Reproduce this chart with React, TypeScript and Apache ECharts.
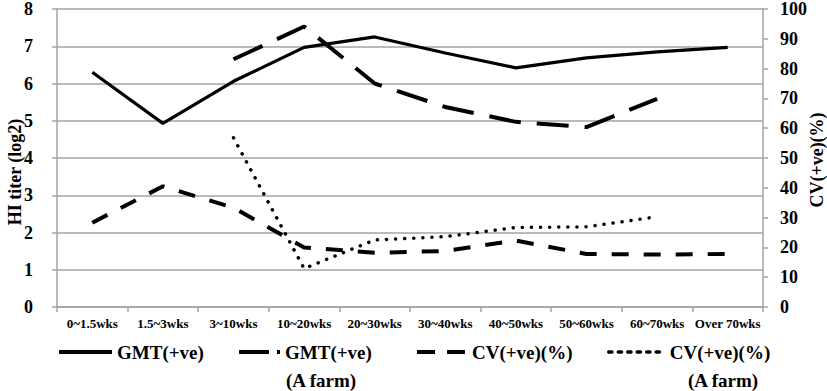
import React, { useEffect, useRef } from "react";
import * as echarts from "echarts";

const categories = [
  "0~1.5wks",
  "1.5~3wks",
  "3~10wks",
  "10~20wks",
  "20~30wks",
  "30~40wks",
  "40~50wks",
  "50~60wks",
  "60~70wks",
  "Over 70wks",
];
const gmt = [6.3, 4.93, 6.06, 6.97, 7.25, 6.82, 6.42, 6.69, 6.85, 6.97];
const gmtAFarm = [null, null, 6.65, 7.53, 6.0, 5.37, 4.97, 4.83, 5.59, null];
const cv = [28.3, 40.5, 33.3, 20.0, 18.2, 18.8, 22.3, 17.8, 17.6, 17.8];
const cvAFarm = [null, null, 56.8, 12.9, 22.5, 23.6, 26.7, 26.9, 30.3, null];

const leftTitle = "HI titer (log2)";
const rightTitle = "CV(+ve)(%)";
const seriesNames = ["GMT(+ve)", "GMT(+ve)(A farm)", "CV(+ve)(%)", "CV(+ve)(%)(A farm)"];
const legendLabels = ["GMT(+ve)", "GMT(+ve)", "CV(+ve)(%)", "CV(+ve)(%)"];
const subLabel = "(A farm)";

const FONT = "'Liberation Serif', 'Times New Roman', serif";
const GRID = "#a3a3a3";

export default function App() {
  const ref = useRef<HTMLDivElement>(null);
  useEffect(() => {
    if (!ref.current) return;
    const chart = echarts.init(ref.current, undefined, { renderer: "svg" });
    const legendBase = {
      top: 342,
      padding: 0,
      itemHeight: 14,
      selectedMode: false,
      itemStyle: { opacity: 0 },
      textStyle: {
        fontFamily: FONT,
        fontWeight: "bold",
        fontSize: 19,
        color: "#000",
        lineHeight: 20,
      },
    };
    chart.setOption({
      animation: false,
      grid: { left: 57, right: 64, top: 6, bottom: 84, containLabel: false },
      xAxis: {
        type: "category",
        data: categories,
        boundaryGap: true,
        axisLine: { lineStyle: { color: GRID, width: 1.5 } },
        axisTick: { show: true, length: 5, lineStyle: { color: GRID, width: 1.5 } },
        axisLabel: {
          fontFamily: FONT,
          fontWeight: "bold",
          fontSize: 13,
          color: "#000",
          margin: 10,
          interval: 0,
        },
      },
      yAxis: [
        {
          type: "value",
          min: 0,
          max: 8,
          interval: 1,
          axisLine: { show: true, lineStyle: { color: GRID, width: 1.5 } },
          axisTick: { show: true, length: 5, lineStyle: { color: GRID, width: 1.5 } },
          splitLine: { show: true, lineStyle: { color: GRID, width: 1.5 } },
          axisLabel: {
            fontFamily: FONT,
            fontWeight: "bold",
            fontSize: 18,
            color: "#000",
            margin: 24,
          },
        },
        {
          type: "value",
          min: 0,
          max: 100,
          interval: 10,
          position: "right",
          axisLine: { show: true, lineStyle: { color: GRID, width: 1.5 } },
          axisTick: { show: true, length: 5, lineStyle: { color: GRID, width: 1.5 } },
          splitLine: { show: false },
          axisLabel: {
            fontFamily: FONT,
            fontWeight: "bold",
            fontSize: 18,
            color: "#000",
            margin: 17,
          },
        },
      ],
      legend: [
        {
          ...legendBase,
          left: 57,
          itemWidth: 53,
          data: [seriesNames[0]],
          formatter: legendLabels[0],
          lineStyle: { width: 4, type: "solid", color: "#000" },
        },
        {
          ...legendBase,
          left: 237,
          itemWidth: 41,
          data: [seriesNames[1]],
          formatter: legendLabels[1],
          lineStyle: { width: 4, type: [30, 8], color: "#000" },
        },
        {
          ...legendBase,
          left: 415,
          itemWidth: 50,
          data: [seriesNames[2]],
          formatter: legendLabels[2],
          lineStyle: { width: 4, type: [18, 12], color: "#000" },
        },
        {
          ...legendBase,
          left: 607,
          itemWidth: 56,
          data: [seriesNames[3]],
          formatter: legendLabels[3],
          lineStyle: { width: 3.5, type: [3.2, 6.3], color: "#000" },
        },
      ],
      series: [
        {
          name: seriesNames[0],
          type: "line",
          yAxisIndex: 0,
          data: gmt,
          symbol: "none",
          lineStyle: { color: "#000", width: 3.2, type: "solid" },
          itemStyle: { color: "#000" },
        },
        {
          name: seriesNames[1],
          type: "line",
          yAxisIndex: 0,
          data: gmtAFarm,
          symbol: "none",
          lineStyle: { color: "#000", width: 4, type: [32, 16] },
          itemStyle: { color: "#000" },
        },
        {
          name: seriesNames[2],
          type: "line",
          yAxisIndex: 1,
          data: cv,
          symbol: "none",
          lineStyle: { color: "#000", width: 4, type: [17, 15] },
          itemStyle: { color: "#000" },
        },
        {
          name: seriesNames[3],
          type: "line",
          yAxisIndex: 1,
          data: cvAFarm,
          symbol: "none",
          lineStyle: { color: "#000", width: 3.5, type: [0.1, 9], cap: "round" },
          itemStyle: { color: "#000" },
        },
      ],
      graphic: [
        {
          type: "text",
          x: 15,
          y: 172,
          rotation: Math.PI / 2,
          style: {
            text: leftTitle,
            align: "center",
            verticalAlign: "middle",
            fontFamily: FONT,
            fontWeight: "bold",
            fontSize: 18,
            fill: "#000",
          },
        },
        {
          type: "text",
          x: 817,
          y: 160,
          rotation: Math.PI / 2,
          style: {
            text: rightTitle,
            align: "center",
            verticalAlign: "middle",
            fontFamily: FONT,
            fontWeight: "bold",
            fontSize: 18,
            fill: "#000",
          },
        },
        {
          type: "text",
          x: 286,
          y: 380,
          style: {
            text: subLabel,
            align: "left",
            verticalAlign: "middle",
            fontFamily: FONT,
            fontWeight: "bold",
            fontSize: 19,
            fill: "#000",
          },
        },
        {
          type: "text",
          x: 688,
          y: 380,
          style: {
            text: subLabel,
            align: "left",
            verticalAlign: "middle",
            fontFamily: FONT,
            fontWeight: "bold",
            fontSize: 19,
            fill: "#000",
          },
        },
      ],
    });
    return () => chart.dispose();
  }, []);
  return (
    <div
      ref={ref}
      style={{ position: "fixed", left: 0, top: 0, width: 827, height: 391, background: "#fff" }}
    />
  );
}
